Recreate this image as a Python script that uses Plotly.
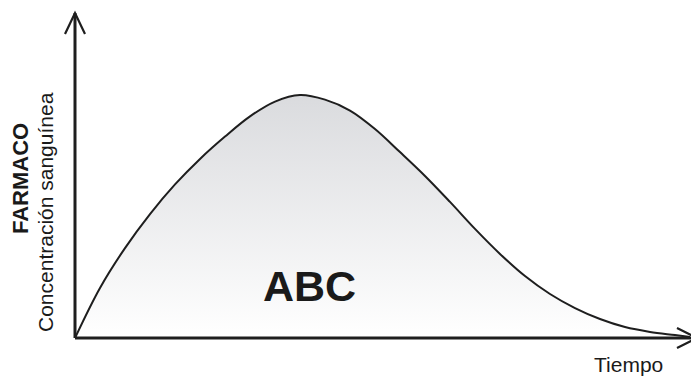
import plotly.graph_objects as go

# Data: drug blood concentration over time (arbitrary units, peak ~ 100)
time = [0, 1, 2, 3, 4, 5, 6, 7, 8, 9, 10, 11, 12, 13, 14, 15, 16, 17,
        18, 19, 20, 21, 22, 23, 24, 24.6]
concentration = [0, 20.6, 37.0, 51.0, 63.2, 73.7, 82.9, 91.2, 97.3, 100.0,
                 98.1, 93.6, 86.0, 76.5, 66.7, 56.0, 44.9, 34.6, 25.5, 18.1,
                 12.3, 7.8, 4.5, 2.5, 1.2, 0.4]

x_label = "Tiempo"
y_label_main = "FARMACO"
y_label_sub = "Concentración sanguínea"
area_label = "ABC"

# The page body has an 8px margin; lay the figure out so that reference
# pixel positions line up.
OFF = 8
W, H = 699 - OFF, 376 - OFF
ORIGIN_X, ORIGIN_Y = 75, 338          # reference pixels of the axes origin
ML = ORIGIN_X - OFF
plot_w = 699 - ORIGIN_X
plot_h = ORIGIN_Y - OFF
MB = H - plot_h
X_RANGE = [0, plot_w / 25.0]
Y_RANGE = [0, plot_h / 2.43]

fig = go.Figure()
fig.add_trace(go.Scatter(
    x=time, y=concentration,
    mode="lines",
    line=dict(color="#1e1e1e", width=2, shape="spline", smoothing=1.0),
    fill="tozeroy",
    fillgradient=dict(type="vertical",
                      colorscale=[[0, "#ffffff"], [1, "#dadbde"]]),
    hoverinfo="skip",
    showlegend=False,
))


def px_to_paper_x(px):
    return (px - ORIGIN_X) / plot_w


def px_to_paper_y(py):
    return (ORIGIN_Y - py) / plot_h


axis_color = "#1e1e1e"
shapes = [
    # y axis
    dict(type="line", xref="paper", yref="paper",
         x0=0, x1=0, y0=0, y1=px_to_paper_y(13),
         line=dict(color=axis_color, width=3)),
    # x axis
    dict(type="line", xref="paper", yref="paper",
         x0=0, x1=px_to_paper_x(697), y0=0, y1=0,
         line=dict(color=axis_color, width=3)),
    # arrowhead on y axis
    dict(type="path", xref="paper", yref="paper",
         xsizemode="pixel", ysizemode="pixel",
         xanchor=0, yanchor=px_to_paper_y(13),
         path="M -10,-21 L 0,0 L 10,-21",
         line=dict(color=axis_color, width=2.2)),
    # arrowhead on x axis
    dict(type="path", xref="paper", yref="paper",
         xsizemode="pixel", ysizemode="pixel",
         xanchor=px_to_paper_x(697), yanchor=0,
         path="M -20,10 L 0,0 L -20,-10",
         line=dict(color=axis_color, width=2.2)),
]

font_family = "Liberation Sans, Arial, Helvetica, sans-serif"
annotations = [
    dict(text="<b>" + y_label_main + "</b>", xref="paper", yref="paper",
         x=px_to_paper_x(20), y=px_to_paper_y(178), textangle=-90,
         showarrow=False, xanchor="center", yanchor="middle",
         font=dict(family=font_family, size=22, color="#1a1a1a")),
    dict(text=y_label_sub, xref="paper", yref="paper",
         x=px_to_paper_x(45), y=px_to_paper_y(212), textangle=-90,
         showarrow=False, xanchor="center", yanchor="middle",
         font=dict(family=font_family, size=21, color="#1a1a1a")),
    dict(text=x_label, xref="paper", yref="paper",
         x=px_to_paper_x(628), y=px_to_paper_y(364),
         showarrow=False, xanchor="center", yanchor="middle",
         font=dict(family=font_family, size=21, color="#1a1a1a")),
    dict(text="<b>" + area_label + "</b>", xref="paper", yref="paper",
         x=px_to_paper_x(309), y=px_to_paper_y(286),
         showarrow=False, xanchor="center", yanchor="middle",
         font=dict(family=font_family, size=43, color="#1a1a1a")),
]

fig.update_layout(
    width=W, height=H,
    margin=dict(l=ML, r=0, t=0, b=MB, pad=0),
    paper_bgcolor="white", plot_bgcolor="white",
    xaxis=dict(range=X_RANGE, visible=False, fixedrange=True),
    yaxis=dict(range=Y_RANGE, visible=False, fixedrange=True),
    shapes=shapes,
    annotations=annotations,
    showlegend=False,
)

fig.write_html("out.html")
